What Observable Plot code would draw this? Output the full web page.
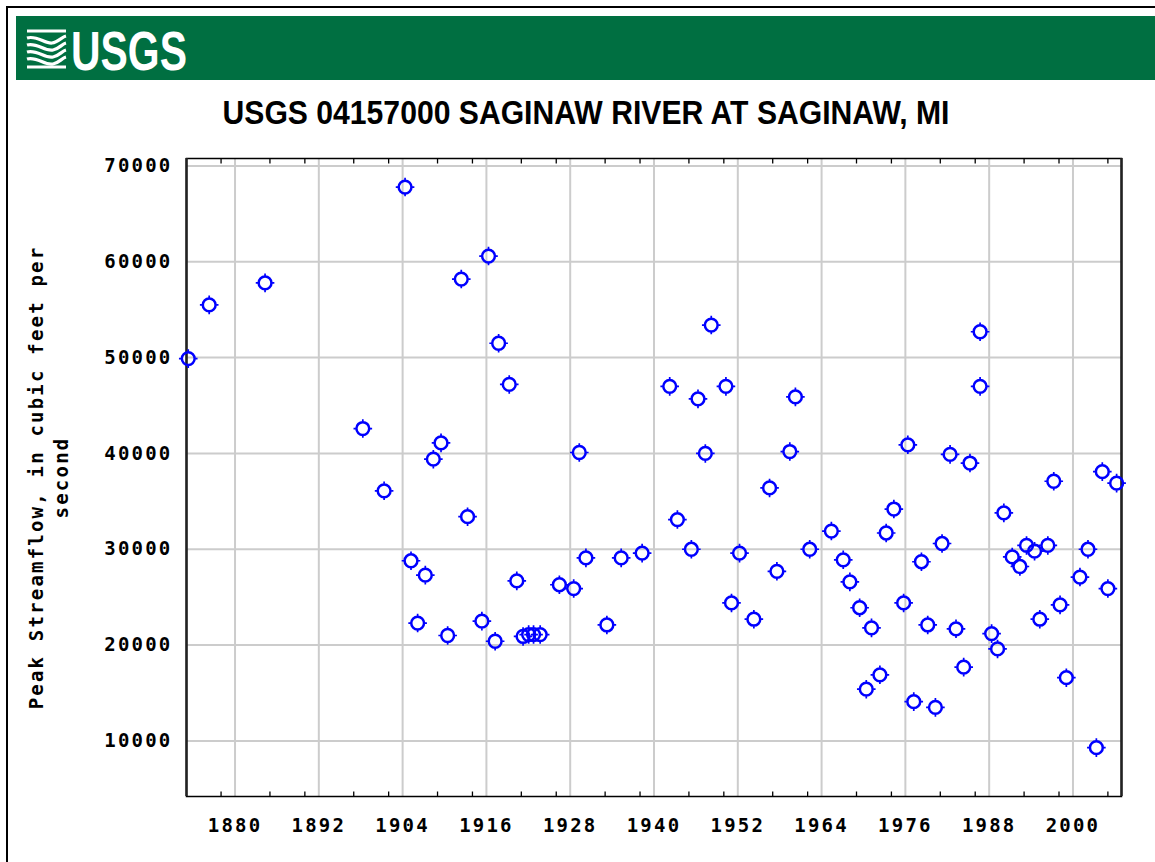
<!DOCTYPE html>
<html>
<head>
<meta charset="utf-8">
<script src="https://cdn.jsdelivr.net/npm/d3@7"></script>
<script src="https://cdn.jsdelivr.net/npm/@observablehq/plot@0.6"></script>
<style>
  html, body { margin: 0; padding: 0; background: #fff; width: 1155px; height: 862px; overflow: hidden; }
  #border { position: absolute; left: 6px; top: 6px; width: 2000px; height: 2000px;
            border-left: 2px solid #000; border-top: 2px solid #000; }
  #band { position: absolute; left: 16px; top: 16px; width: 1200px; height: 64px; background: #006f41; }
  #logo { position: absolute; left: 0; top: 0; }
  #title { position: absolute; left: 0; top: 0; }
  #chart { position: absolute; left: 0; top: 140px; }
  #chart svg text { font-family: "DejaVu Sans Mono", monospace; font-weight: bold; font-size: 19px; letter-spacing: 2.2px; fill: #000; }
</style>
</head>
<body>
<div id="border"></div>
<div id="band"></div>
<svg id="logo" width="320" height="100">
  <g fill="none" stroke="#fff" stroke-width="3.2" stroke-linecap="butt">
    <path d="M27,31 L66,31"/>
    <path d="M27,38 C37,35 45,44 52,43 C58,42 62,37 66,36"/>
    <path d="M27,45 C37,42 45,52 53,50 C59,49 62,44 66,43"/>
    <path d="M27,52 C37,49 45,59 53,57 C59,56 62,51 66,50"/>
    <path d="M27,59 C37,56 45,66 53,64 C59,63 62,58 66,57"/>
    <path d="M27,67 L66,67"/>
  </g>
  <text x="71" y="70" textLength="116" lengthAdjust="spacingAndGlyphs"
        style="font-family:'Liberation Sans Narrow','Liberation Sans',Arial,sans-serif;font-weight:bold;font-size:56px;fill:#fff">USGS</text>
</svg>
<svg id="title" width="1155" height="140">
  <text x="222.5" y="124" textLength="727" lengthAdjust="spacingAndGlyphs"
        style="font-family:'Liberation Sans Narrow','Liberation Sans',Arial,sans-serif;font-weight:bold;font-size:33px;fill:#000">USGS 04157000 SAGINAW RIVER AT SAGINAW, MI</text>
</svg>
<div id="chart"></div>
<script>
// Peak streamflow (decimal year of peak, cfs)
const years = [
  1873.3, 1876.3, 1884.3, 1898.3, 1901.35, 1904.35, 1905.2, 1906.15, 1907.25, 1908.4,
  1909.5, 1910.45, 1912.4, 1913.3, 1915.35, 1916.3, 1917.25, 1917.75, 1919.27, 1920.35,
  1921.25, 1922.05, 1922.75, 1923.7, 1926.45, 1928.5, 1929.3, 1930.25, 1933.25, 1935.3,
  1938.3, 1942.25, 1943.35, 1945.35, 1946.3, 1947.35, 1948.2, 1950.3, 1951.1, 1952.25,
  1954.3, 1956.55, 1957.6, 1959.45, 1960.25, 1962.3, 1965.4, 1967.1, 1968.05, 1969.45,
  1970.4, 1971.15, 1972.35, 1973.25, 1974.35, 1975.75, 1976.35, 1977.2, 1978.3, 1979.2,
  1980.3, 1981.25, 1982.4, 1983.25, 1984.35, 1985.25, 1986.7, 1986.7, 1988.35, 1989.2,
  1990.1, 1991.3, 1992.4, 1993.35, 1994.5, 1995.25, 1996.4, 1997.25, 1998.15, 1999.05,
  2001.0, 2002.15, 2003.35, 2004.2, 2005.0, 2006.25
];
const peaks = [
  49900, 55500, 57800, 42600, 36100, 67800, 28800, 22300, 27300, 39400,
  41100, 21000, 58200, 33400, 22500, 60600, 20400, 51500, 47200, 26700,
  20900, 21100, 21100, 21100, 26300, 25900, 40100, 29100, 22100, 29100,
  29600, 47000, 33100, 30000, 45700, 40000, 53400, 47000, 24400, 29600,
  22700, 36400, 27700, 40200, 45900, 30000, 31900, 28900, 26600, 23900,
  15400, 21800, 16900, 31700, 34200, 24400, 40900, 14100, 28700, 22100,
  13500, 30600, 39900, 21700, 17700, 39000, 52700, 47000, 21200, 19600,
  33800, 29200, 28200, 30400, 29800, 22700, 30400, 37100, 24200, 16600,
  27100, 30000, 9300, 38100, 25900, 36900
];
const xTicks = [1880, 1892, 1904, 1916, 1928, 1940, 1952, 1964, 1976, 1988, 2000];
const xMinorTicks = [1878, 1885, 1890, 1897, 1902, 1909, 1914, 1921, 1926, 1933, 1938,
                     1945, 1950, 1957, 1962, 1969, 1974, 1981, 1986, 1993, 1998, 2005];
const yTicks = [10000, 20000, 30000, 40000, 50000, 60000, 70000];
const xDomain = [1873.05, 2006.95];
const yDomain = [4200, 70780];
const yLabel = "Peak Streamflow, in cubic feet per\nsecond";

const data = years.map((y, i) => ({year: y, peak: peaks[i]}));

const upTick = {draw(ctx) { ctx.moveTo(0, 0); ctx.lineTo(0, -5); }};
const downTick = {draw(ctx) { ctx.moveTo(0, 0); ctx.lineTo(0, 5); }};
const spurs = {draw(ctx) {
  ctx.moveTo(0, -9.3); ctx.lineTo(0, -7);
  ctx.moveTo(0, 7); ctx.lineTo(0, 9.3);
  ctx.moveTo(-9.3, 0); ctx.lineTo(-7, 0);
  ctx.moveTo(7, 0); ctx.lineTo(9.3, 0);
}};

const chart = Plot.plot({
  width: 1155,
  height: 722,
  marginLeft: 186,
  marginRight: 34,
  marginTop: 18,
  marginBottom: 66,
  style: {background: "transparent", overflow: "visible"},
  x: {domain: xDomain},
  y: {domain: yDomain},
  marks: [
    Plot.gridX(xTicks, {stroke: "#cccccc", strokeOpacity: 1, strokeWidth: 2}),
    Plot.gridY(yTicks, {stroke: "#cccccc", strokeOpacity: 1, strokeWidth: 2}),
    Plot.frame({stroke: "#000", strokeWidth: 1.5}),
    Plot.ruleX(xDomain, {stroke: "#222", strokeWidth: 2.5}),
    Plot.dot(xMinorTicks, {x: d => d, frameAnchor: "bottom", symbol: upTick, stroke: "#000", strokeWidth: 1.3}),
    Plot.dot(xMinorTicks, {x: d => d, frameAnchor: "top", symbol: downTick, stroke: "#000", strokeWidth: 1.3}),
    Plot.axisX(xTicks, {anchor: "bottom", tickSize: 0, tickPadding: 22, tickFormat: d => String(d), label: null}),
    Plot.axisY(yTicks, {anchor: "left", tickSize: 0, tickPadding: 14, tickFormat: d => String(d), label: null}),
    Plot.text([yLabel], {frameAnchor: "left", text: d => d, rotate: -90, dx: -139, lineHeight: 1.32, textAnchor: "middle", lineAnchor: "middle"}),
    Plot.dot(data, {x: "year", y: "peak", symbol: spurs, stroke: "#0000ff", strokeWidth: 1.7}),
    Plot.dot(data, {x: "year", y: "peak", r: 6.4, fill: "none", stroke: "#0000ff", strokeWidth: 2.5})
  ]
});
document.getElementById("chart").appendChild(chart);
</script>
</body>
</html>
